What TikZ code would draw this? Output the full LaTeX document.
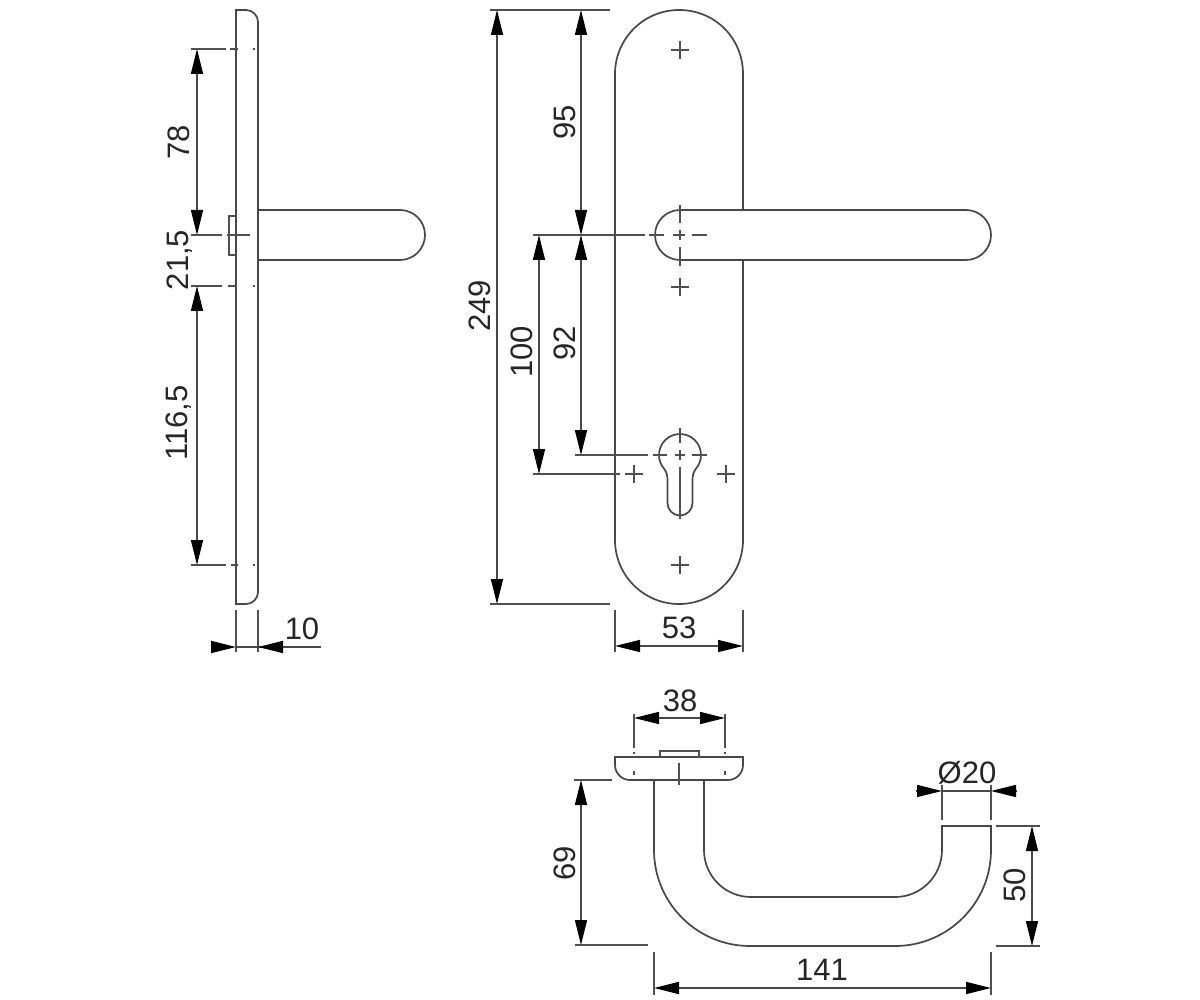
\documentclass[tikz,border=0pt]{standalone}
\usepackage{fontspec}
\setmainfont{Liberation Sans}
\usetikzlibrary{arrows.meta}
\definecolor{ink}{HTML}{484848}
\definecolor{ink2}{HTML}{505050}
\tikzset{
  outline/.style={draw=ink,line width=1.7pt},
  thin line/.style={draw=ink2,line width=1.4pt},
  dimline/.style={draw=ink,line width=1.6pt},
  dimboth/.style={dimline,{Triangle[length=25pt,width=12pt,color=black]}-{Triangle[length=25pt,width=12pt,color=black]}},
  tipend/.style={dimline,-{Triangle[length=25pt,width=12pt,color=black]}},
  lab/.style={font=\fontsize{31}{31}\selectfont,text=black!85,inner sep=0pt},
  vlab/.style={lab,rotate=90},
}
\newcommand{\crossmark}[2]{\draw[thin line] (#1-9,#2)--(#1+9,#2) (#1,#2-9)--(#1,#2+9);}
\begin{document}
\begin{tikzpicture}[x=1pt,y=-1pt]
\useasboundingbox (0,0) rectangle (1200,1000);
\fill[white] (0,0) rectangle (1200,1000);

% ---- side view
\draw[outline] (236,10) -- (246,10) .. controls (252.6,10) and (258,15.4) .. (258,22) -- (258,592) .. controls (258,598.6) and (252.6,604) .. (246,604) -- (236,604) -- cycle;
\draw[outline] (259,210) -- (400,210) .. controls (413.8,210) and (425,221.2) .. (425,235) .. controls (425,248.8) and (413.8,260) .. (400,260) -- (259,260);
\draw[thin line] (236,216) -- (229,216) -- (229,255) -- (236,255);
% extension lines
\draw[thin line] (191,49)--(226,49) (230,49)--(238,49) (253,49)--(255,49);
\draw[thin line] (191,235)--(222,235) (227,235)--(250,235);
\draw[thin line] (191,286)--(222,286) (228,286)--(237,286) (253,286)--(255,286);
\draw[thin line] (191,565)--(226,565) (231,565)--(238,565) (253,565)--(255,565);
\draw[dimboth] (197,49) -- (197,235);
\draw[dimboth] (197,286) -- (197,565);
\node[vlab] (d78) at (179,142) {78};
\node[vlab] (d215) at (180,260) {21,5};
\node[vlab] (d1165) at (179,423) {116,5};
% dim 10
\draw[thin line] (236,610)--(236,652) (258,610)--(258,652);
\draw[dimline] (236,647) -- (321,647);
\draw[tipend] (212,647) -- (236,647);
\draw[tipend] (284,647) -- (258,647);
\node[lab] (d10) at (302,629) {10};

% ---- front view
\draw[outline] (743,210) -- (743,74) .. controls (743,38.65) and (715.35,10) .. (679,10) .. controls (643.65,10) and (615,38.65) .. (615,74) -- (615,540) .. controls (615,575.35) and (643.65,604) .. (679,604) .. controls (714.35,604) and (743,575.35) .. (743,540) -- (743,260);
\draw[outline] (680,210) -- (966,210) .. controls (979.8,210) and (991,221.2) .. (991,235) .. controls (991,248.8) and (979.8,260) .. (966,260) -- (680,260) .. controls (666.2,260) and (655,248.8) .. (655,235) .. controls (655,221.2) and (666.2,210) .. (680,210);
\crossmark{680}{50}
\crossmark{680}{287}
\crossmark{634}{474}
\crossmark{726}{474}
\crossmark{680}{565}
% keyhole
\draw[outline] (663.9,468.5) .. controls (660.7,464.7) and (659,459.9) .. (659,455) .. controls (659,443.4) and (668.4,434) .. (680,434) .. controls (691.6,434) and (701,443.4) .. (701,455) .. controls (701,459.9) and (699.3,464.7) .. (696.1,468.5) .. controls (693,472.5) and (692.5,476) .. (692.5,481) -- (692.5,503) .. controls (692.5,509.9) and (686.9,515.5) .. (680,515.5) .. controls (673.1,515.5) and (667.5,509.9) .. (667.5,503) -- (667.5,481) .. controls (667.5,476) and (667,472.5) .. (663.9,468.5);
% handle axes
\draw[thin line] (533,235)--(645,235) (649,235)--(664,235) (673,235)--(685,235) (692,235)--(707,235);
\draw[thin line] (680,205)--(680,223) (680,230)--(680,240) (680,247)--(680,266);
\draw[thin line] (575,455)--(648,455) (653,455)--(667,455) (675,455)--(685,455) (692,455)--(707,455);
\draw[thin line] (680,428)--(680,443) (680,450)--(680,460) (680,467)--(680,519);
\draw[thin line] (533,474)--(620,474);
\draw[thin line] (490,10)--(610,10) (490,604)--(610,604);
\draw[dimboth] (497,10) -- (497,604);
\draw[dimboth] (581,10) -- (581,235);
\draw[dimboth] (581,235) -- (581,455);
\draw[dimboth] (539,235) -- (539,474);
\node[vlab] (d249) at (480,306) {249};
\node[vlab] (d95) at (565,122) {95};
\node[vlab] (d92) at (565,343) {92};
\node[vlab] (d100) at (522,352) {100};
% dim 53
\draw[thin line] (615,610)--(615,652) (743,610)--(743,652);
\draw[dimboth] (615,646) -- (743,646);
\node[lab] (d53) at (679,628) {53};

% ---- top view
\draw[outline] (615,757) -- (743,757) -- (743,765) .. controls (743,773.3) and (736.3,780) .. (728,780) -- (630,780) .. controls (621.7,780) and (615,773.3) .. (615,765) -- cycle;
\draw[thin line] (660,757) -- (660,751) -- (699,751) -- (699,757);
\draw[thin line] (679,763) -- (679,785);
\draw[thin line] (634,771)--(634,775) (725,771)--(725,775);
\draw[thin line] (634,714)--(634,748) (634,752)--(634,754) (725,714)--(725,748) (725,752)--(725,754);
\draw[dimboth] (634,718) -- (725,718);
\node[lab] (d38) at (680,701) {38};
% handle
\draw[outline] (654,780) -- (654,850) .. controls (654,903) and (697,946) .. (750,946) -- (895,946) .. controls (948,946) and (991,903) .. (991,850) -- (991,826) -- (942,826) -- (942,850) .. controls (942,876) and (921,897) .. (895,897) -- (751,897) .. controls (725,897) and (704,876) .. (704,850) -- (704,780);
% dims
\draw[thin line] (574,780)--(612,780) (575,945)--(648,945);
\draw[dimboth] (581,780) -- (581,945);
\node[vlab] (d69) at (565,863) {69};
\draw[thin line] (996,826)--(1040,826) (996,946)--(1040,946);
\draw[dimboth] (1032,826) -- (1032,946);
\node[vlab] (d50) at (1015,885) {50};
\draw[thin line] (654,952)--(654,995) (991,952)--(991,995);
\draw[dimboth] (654,988) -- (991,988);
\node[lab] (d141) at (822,970) {141};
\draw[thin line] (942,785)--(942,820) (991,785)--(991,820);
\draw[dimline] (942,791) -- (991,791);
\draw[tipend] (916,791) -- (942,791);
\draw[tipend] (1017,791) -- (991,791);
\node[lab] (d20) at (967,773) {Ø20};
\end{tikzpicture}
\end{document}
